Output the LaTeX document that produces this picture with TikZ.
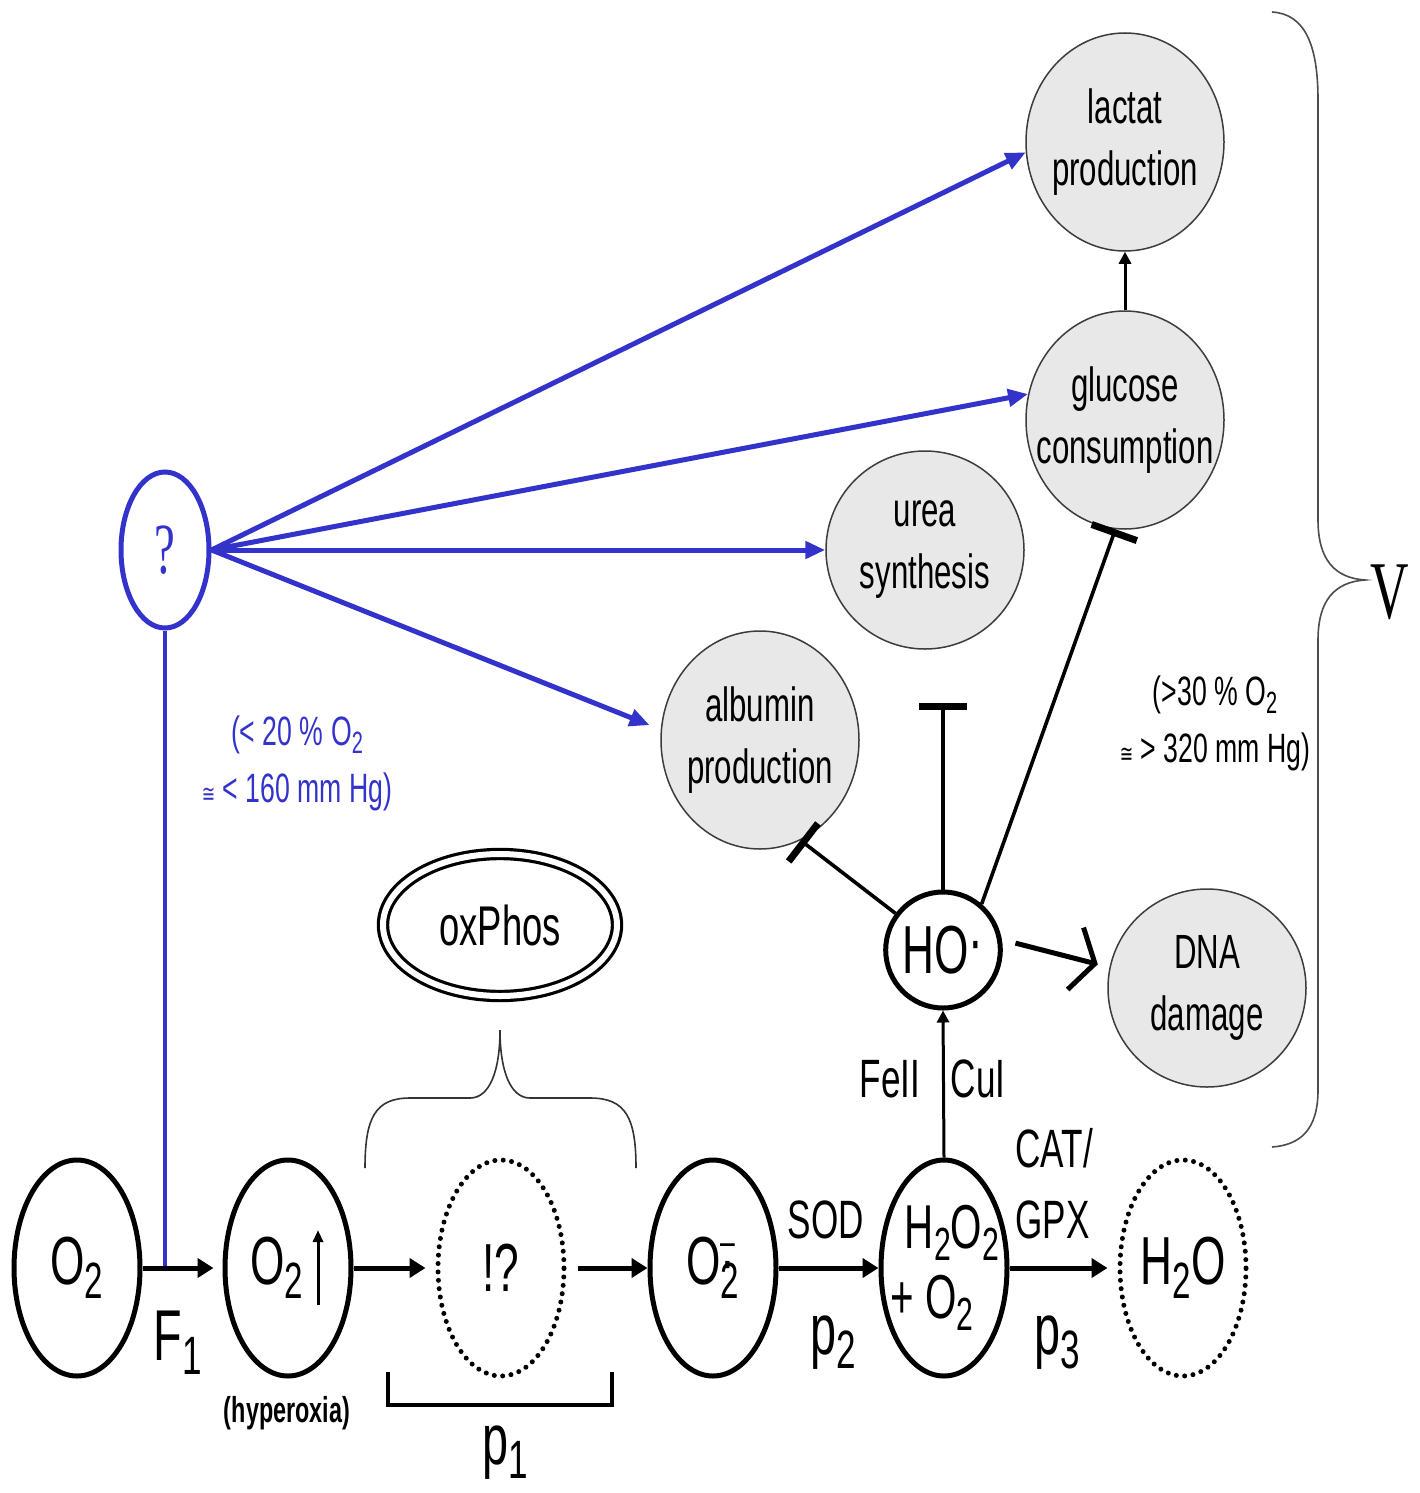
\documentclass[tikz,border=0pt]{standalone}
\usepackage{fontspec}
\setmainfont{Liberation Sans}[FakeStretch=0.65]
\newfontfamily\serifn{Liberation Serif}[FakeStretch=0.65]
\newfontfamily\symb{DejaVu Sans}[FakeStretch=0.65]
\usetikzlibrary{shapes.geometric,arrows.meta,calc}

\definecolor{pathblue}{RGB}{51,51,204}
\definecolor{effectfill}{RGB}{232,232,232}
\definecolor{effectline}{RGB}{60,60,60}

% lowered subscript in text fonts
\newcommand\dn[1]{\raisebox{-0.2em}{\scalebox{0.75}{#1}}}

\begin{document}
\begin{tikzpicture}[x=0.5pt,y=-0.5pt,
  every node/.style={inner sep=0pt},
  species/.style={ellipse, draw, line width=2.5pt, minimum width=63pt,
    minimum height=108pt, inner xsep=-8pt, font=\fontsize{34}{38}\selectfont},
  transient/.style={species, dash pattern=on 0pt off 4.2pt, line cap=round},
  effect/.style={ellipse, draw=effectline, fill=effectfill, line width=0.75pt,
    minimum width=99pt, minimum height=109pt, inner xsep=-12pt, align=center,
    font=\fontsize{24}{31}\selectfont},
  flow/.style={line width=2.5pt, -{Triangle[length=8pt,width=9.5pt]}},
  thinflow/.style={line width=1.5pt, -{Triangle[length=6pt,width=6pt]}},
  inhibit/.style={line width=1.8pt, -{Bar[width=24pt,line width=3.5pt]}},
  bluelink/.style={draw=pathblue, line width=2.5pt, -{Triangle[length=10pt,width=8.5pt]}},
  lbl/.style={font=\fontsize{27}{32}\selectfont},
  rate/.style={font=\fontsize{36}{40}\selectfont},
  brace/.style={draw=black!80, line width=0.8pt},
  cond/.style={align=center, font=\fontsize{20.5}{28.5}\selectfont}
]
\useasboundingbox (0,0) rectangle (1419,1493);

% ---------- main pathway ----------
\node[species] (o2) at (77,1268) {O\dn{2}};
\node[species] (hyp) at (288,1268) {O\dn{2}\kern11pt};
\node[transient] (unk) at (501,1268) {!?};
\node[species] (sup) at (713,1268)
  {O\makebox[0pt][l]{\raisebox{0.43em}{\scalebox{0.6}{–}}}\makebox[0pt][l]{\raisebox{0.02em}{·}}\dn{2}};
\node[species, align=center, font=\fontsize{31}{35}\selectfont] (perox) at (944,1268)
  {\kern8pt H\dn{2}O\dn{2}\\+ O\dn{2}\kern12pt};
\node[transient] (water) at (1183,1268) {H\dn{2}O};

\node[species, minimum width=56pt, minimum height=58pt, inner xsep=0pt] (ho) at (943,950)
  {HO\raisebox{0.15em}{·}};

\node[ellipse, draw, double, line width=1.6pt, double distance=3pt,
  minimum width=117pt, minimum height=71pt, font=\fontsize{28}{32}\selectfont]
  (ox) at (500,925) {oxPhos};

% ---------- affected functions ----------
\node[effect] (lact) at (1125,142) {lactat\\production};
\node[effect] (gluc) at (1125,420) {glucose\\consumption};
\node[effect, minimum height=99pt] (urea) at (925,550) {urea\\synthesis};
\node[effect] (alb) at (760,740) {albumin\\production};
\node[effect, minimum height=99pt] (dna) at (1207,988) {DNA\\damage};

% ---------- unknown low-oxygen mediator ----------
\node[ellipse, draw=pathblue, line width=2.5pt, minimum width=44pt,
  minimum height=78pt, text=pathblue, font=\serifn\fontsize{36}{40}\selectfont]
  (q) at (165,550) {?};
\coordinate (jn) at (165,1268);
\draw[pathblue, line width=2pt] (q.south) -- (jn);
\draw[bluelink] (q.east) -- (lact.186);
\draw[bluelink] (q.east) -- (gluc.165);
\draw[bluelink] (q.east) -- (urea.west);
\draw[bluelink, shorten >=6pt] (q.east) -- (alb.174);

% ---------- pathway arrows ----------
\draw[flow, shorten >=4.5pt] (o2) -- (hyp);
\draw[flow, shorten >=5pt] (hyp) -- (unk);
\draw[flow, shorten <=5.5pt] (unk) -- (sup);
\draw[flow] (sup) -- (perox);
\draw[flow, shorten >=5pt] (perox) -- (water);
\draw[line width=1.5pt, -{Triangle[length=6pt,width=5pt]}]
  ($(hyp.center)+(30,37)$) -- ($(hyp.center)+(30,-38)$);

\draw[thinflow] (perox.north) -- (ho.south);
\draw[thinflow] (gluc.north) -- (lact.south);

% ---------- hydroxyl radical effects ----------
\coordinate (ubar) at (943,703);
\draw[inhibit] (ho) -- (alb.292);
\draw[inhibit] (ho.north) -- (ubar);
\draw[inhibit] (ho.50) -- (gluc.265);
\draw[line width=2.5pt, -{Straight Barb[length=10pt,width=32pt]},
  shorten <=7pt, shorten >=6pt] (ho.10) -- (dna.168);

% ---------- labels ----------
\node[rate, anchor=base] (f1) at (178,1360) {F\dn{1}};
\node[rate, anchor=base] (p2) at (833,1354) {p\dn{2}};
\node[rate, anchor=base] (p3) at (1057,1354) {p\dn{3}};
\node[rate, anchor=base] (p1) at (505,1464) {p\dn{1}};
\node[lbl, anchor=base] (sod) at (826,1238) {SOD};
\node[lbl, anchor=base west] (cat) at (1015,1167) {CAT/};
\node[lbl, anchor=base west] (gpx) at (1015,1238) {GPX};
\node[lbl, anchor=base] (fe) at (890,1097) {FeII};
\node[lbl, anchor=base] (cu) at (978,1097) {CuI};
\node[font=\bfseries\fontsize{18}{20}\selectfont, anchor=base] (hyper) at (287,1422) {(hyperoxia)};

\node[cond, text=pathblue] (lowc) at (297,763)
  {(< 20 \% O\dn{2}\\{\symb\scalebox{0.6}{≅}} < 160 mm Hg)};
\node[cond] (highc) at (1215,723)
  {(>30 \% O\dn{2}\\{\symb\scalebox{0.6}{≅}} > 320 mm Hg)};
\node[font=\serifn\fontsize{41}{44}\selectfont] (vlab) at (1390,592) {V};

% ---------- brackets and braces ----------
\draw[line width=1.6pt] (388,1372) -- (388,1405) -- (612,1405) -- (612,1372);
\draw[brace] (365,1168) .. controls (365,1118) and (375,1098) .. (410,1098)
  -- (470,1098) .. controls (490,1098) and (500,1070) .. (500,1030)
  .. controls (500,1070) and (510,1098) .. (530,1098)
  -- (590,1098) .. controls (626,1098) and (636,1118) .. (636,1168);
\draw[brace, draw=black!70] (1272,12) .. controls (1305,14) and (1318,45) .. (1318,100)
  -- (1318,520) .. controls (1318,560) and (1335,578) .. (1365,580)
  .. controls (1335,582) and (1318,600) .. (1318,640)
  -- (1318,1090) .. controls (1318,1130) and (1300,1145) .. (1272,1147);
\end{tikzpicture}
\end{document}
